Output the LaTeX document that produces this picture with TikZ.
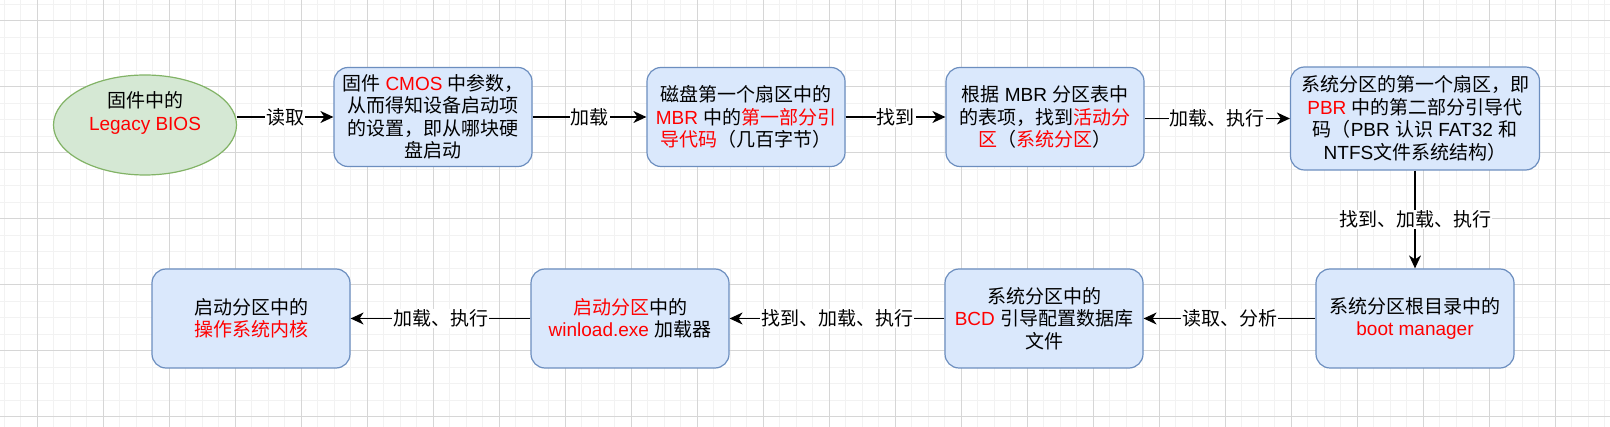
\documentclass[tikz,border=0pt]{standalone}
\usepackage{fontspec}
\setmainfont{Liberation Sans}
\newfontfamily\cjkfont{Noto Sans CJK SC}
% switch to the CJK font for every run of Chinese characters
\XeTeXinterchartokenstate=1
\newXeTeXintercharclass\cjkclass
\newcount\cjkcode
\cjkcode="3000
\loop \XeTeXcharclass\cjkcode=\cjkclass \advance\cjkcode by 1 \ifnum\cjkcode<"A000 \repeat
\cjkcode="FF00
\loop \XeTeXcharclass\cjkcode=\cjkclass \advance\cjkcode by 1 \ifnum\cjkcode<"FFF0 \repeat
\XeTeXinterchartoks 0 \cjkclass = {\begingroup\cjkfont}
\XeTeXinterchartoks 4095 \cjkclass = {\begingroup\cjkfont}
\XeTeXinterchartoks \cjkclass 0 = {\endgroup}
\XeTeXinterchartoks \cjkclass 4095 = {\endgroup}
\usetikzlibrary{arrows.meta, shapes.geometric}
\definecolor{boxfill}{HTML}{DAE8FC}
\definecolor{boxline}{HTML}{6C8EBF}
\definecolor{biosfill}{HTML}{D5E8D4}
\definecolor{biosline}{HTML}{82B366}
\definecolor{majorgrid}{HTML}{D6D6D6}
\definecolor{minorgrid}{HTML}{F2F2F2}
\tikzset{
  stepbox/.style = {draw=boxline, fill=boxfill, rounded corners=14pt,
    line width=1.2pt, minimum width=198pt, minimum height=99pt,
    align=center, inner sep=0pt},
  biosnode/.style = {ellipse, draw=biosline, fill=biosfill, line width=1.2pt,
    minimum width=183pt, minimum height=100pt, align=center, inner sep=0pt},
  flow/.style = {-{Stealth[length=13pt, width=12pt, inset=4pt]}, line width=1.3pt},
  lbl/.style = {fill=white, inner sep=1pt}}

\begin{document}
\begin{tikzpicture}[x=1pt, y=-1pt,
  every node/.style={font=\fontsize{19}{22.5}\selectfont}]
\useasboundingbox[fill=white] (0,0) rectangle (1610,427);
% background grid
\foreach \i in {0,...,97}
  \draw[minorgrid, line width=1pt] ({4+16.5*\i},0) -- ++(0,427);
\foreach \j in {0,...,25}
  \draw[minorgrid, line width=1pt] (0,{4.5+16.5*\j}) -- ++(1610,0);
\foreach \i in {0,...,23}
  \draw[majorgrid, line width=1pt] ({37+66*\i},0) -- ++(0,427);
\foreach \j in {0,...,6}
  \draw[majorgrid, line width=1pt] (0,{21+66*\j}) -- ++(1610,0);

% first row
\node[biosnode] (bios) at (145,125) {固件中的\\\textcolor{red}{Legacy BIOS}\\[6pt]};
\node[stepbox] (cmos) at (433,117)
  {固件 \textcolor{red}{CMOS} 中参数，\\从而得知设备启动项\\的设置，即从哪块硬\\盘启动};
\node[stepbox] (mbr) at (746,117)
  {磁盘第一个扇区中的\\\textcolor{red}{MBR} 中的\textcolor{red}{第一部分引}\\\textcolor{red}{导代码}（几百字节）};
\node[stepbox] (part) at (1045,117)
  {根据 MBR 分区表中\\的表项，找到\textcolor{red}{活动分}\\\textcolor{red}{区}（\textcolor{red}{系统分区}）};
\node[stepbox, minimum width=249pt, minimum height=103pt] (pbr) at (1415,118.5)
  {系统分区的第一个扇区，即\\\textcolor{red}{PBR} 中的第二部分引导代\\码（PBR 认识 FAT32 和\\NTFS文件系统结构）};

% second row
\node[stepbox] (boot) at (1415,318.5) {系统分区根目录中的\\\textcolor{red}{boot manager}};
\node[stepbox] (bcd) at (1044,318.5)
  {系统分区中的\\\textcolor{red}{BCD} 引导配置数据库\\文件};
\node[stepbox] (winload) at (630,318.5)
  {\textcolor{red}{启动分区}中的\\\textcolor{red}{winload.exe} 加载器};
\node[stepbox] (kernel) at (251,318.5) {启动分区中的\\\textcolor{red}{操作系统内核}};

\draw[flow] (bios.east |- cmos.west) -- node[lbl] {读取} (cmos.west);
\draw[flow] (cmos) -- node[lbl] {加载} (mbr);
\draw[flow] (mbr) -- node[lbl] {找到} (part);
\draw[flow] (part.east |- pbr.west) -- node[lbl] {加载、执行} (pbr.west);
\draw[flow] (pbr) -- node[lbl] {找到、加载、执行} (boot);
\draw[flow] (boot) -- node[lbl] {读取、分析} (bcd);
\draw[flow] (bcd) -- node[lbl] {找到、加载、执行} (winload);
\draw[flow] (winload) -- node[lbl] {加载、执行} (kernel);
\end{tikzpicture}
\end{document}
